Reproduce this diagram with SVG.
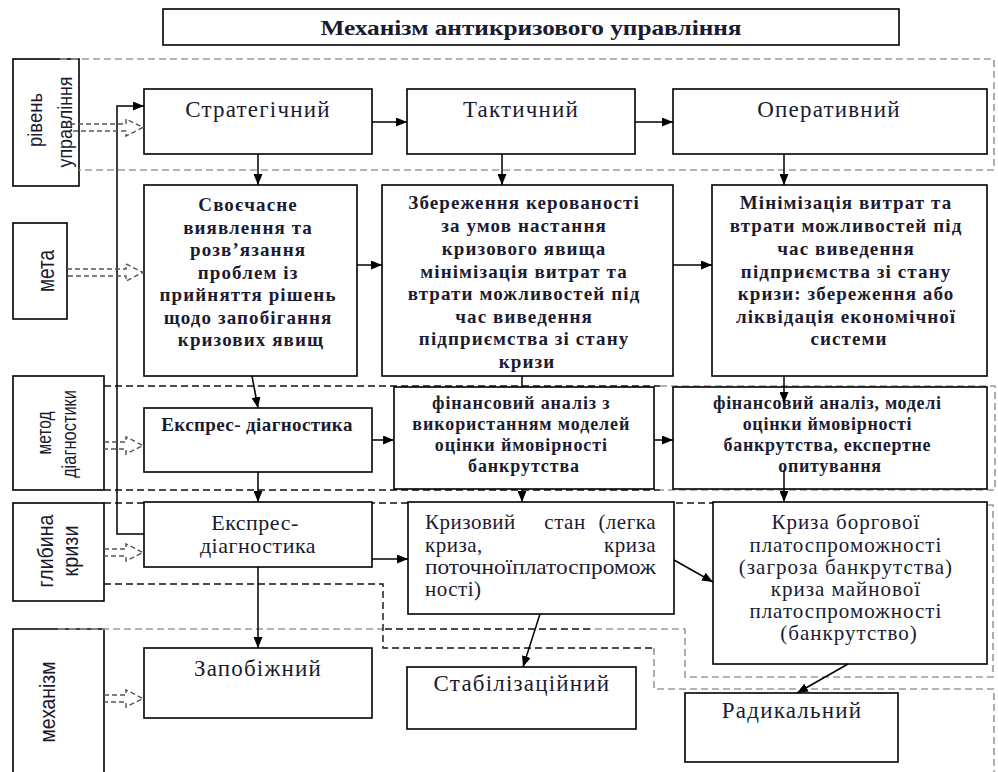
<svg xmlns="http://www.w3.org/2000/svg" width="998" height="772" viewBox="0 0 998 772">
<defs>
<marker id="ar" markerUnits="userSpaceOnUse" markerWidth="11" markerHeight="9" refX="11" refY="4.5" orient="auto">
<path d="M0,0 L11,4.5 L0,9 z" fill="#000"/>
</marker>
<style>
.box{fill:#fff;stroke:#000;stroke-width:1.6}
.t{font-family:"Liberation Serif","Times New Roman",serif;fill:#1a1a30;text-anchor:middle}
.b{font-weight:bold}
.l{text-anchor:start}
.r{text-anchor:end}
.lab{font-family:"Liberation Sans Narrow","Liberation Sans",Arial,sans-serif;fill:#1a1a30;text-anchor:middle}
.dg{fill:none;stroke:#9a9a9a;stroke-width:1.6;stroke-dasharray:7 4}
.dk{fill:none;stroke:#111;stroke-width:1.4;stroke-dasharray:7 4}
.ln{fill:none;stroke:#000;stroke-width:1.5}
.ba{fill:none;stroke:#555;stroke-width:1.4;stroke-dasharray:5 3}
.big{font-size:23px;letter-spacing:1.2px}
.g2{font-size:19px;letter-spacing:1.1px}
</style>
</defs>
<rect width="998" height="772" fill="#fff"/>

<g id="title">
<rect class="box" x="163" y="9" width="736" height="36"/>
<text class="t b" x="531" y="35" font-size="22" textLength="421" lengthAdjust="spacingAndGlyphs">Механізм антикризового управління</text>
</g>

<g id="label-riven">
<rect class="box" x="13" y="59" width="66" height="127"/>
<text class="lab" transform="translate(42,120) rotate(-90)" font-size="20" textLength="54" lengthAdjust="spacingAndGlyphs">рівень</text>
<text class="lab" transform="translate(72,122) rotate(-90)" font-size="20" textLength="91" lengthAdjust="spacingAndGlyphs">управління</text>
</g>
<g id="label-meta">
<rect class="box" x="13" y="223" width="54" height="96"/>
<text class="lab" transform="translate(54,271) rotate(-90)" font-size="23" textLength="42" lengthAdjust="spacingAndGlyphs">мета</text>
</g>
<g id="label-metod">
<rect class="box" x="13" y="376" width="91" height="114"/>
<text class="lab" transform="translate(51,433) rotate(-90)" font-size="20" textLength="43" lengthAdjust="spacingAndGlyphs">метод</text>
<text class="lab" transform="translate(76,434) rotate(-90)" font-size="20" textLength="88" lengthAdjust="spacingAndGlyphs">діагностики</text>
</g>
<g id="label-hlybyna">
<rect class="box" x="13" y="503" width="91" height="98"/>
<text class="lab" transform="translate(53,551) rotate(-90)" font-size="22" textLength="73" lengthAdjust="spacingAndGlyphs">глибина</text>
<text class="lab" transform="translate(78,551) rotate(-90)" font-size="22" textLength="51" lengthAdjust="spacingAndGlyphs">кризи</text>
</g>
<g id="label-mekhanizm">
<path class="box" d="M13,775 V629 H104 V775"/>
<text class="lab" transform="translate(55,702) rotate(-90)" font-size="22" textLength="81" lengthAdjust="spacingAndGlyphs">механізм</text>
</g>

<g id="bands">
<path class="dg" d="M60,59 H994 V170 H79"/>
<path class="dk" d="M104,386 H660"/>
<path class="dg" d="M660,386 H995 V490 H660"/>
<path class="dk" d="M104,490 H660"/>
<path class="dk" d="M104,503 H713"/>
<path class="dg" d="M713,505 H993 V677 H685 V629 H590"/>
<path class="dk" d="M590,629 H383"/>
<path class="dg" d="M58,629 H383"/>
<path class="dk" d="M104,584 H383 V648 H654"/>
<path class="dg" d="M654,648 V689 H994 V772"/>
</g>

<g id="n-strategic">
<rect class="box" x="144" y="89" width="228" height="65"/>
<text class="t big" x="258" y="117">Стратегічний</text>
</g>
<g id="n-tactical">
<rect class="box" x="407" y="89" width="228" height="65"/>
<text class="t big" x="521" y="117">Тактичний</text>
</g>
<g id="n-operative">
<rect class="box" x="673" y="89" width="314" height="65"/>
<text class="t big" x="829" y="117">Оперативний</text>
</g>

<g id="n-goal1">
<rect class="box" x="144" y="185" width="213" height="191"/>
<text class="t b g2">
<tspan x="251" y="211">Своєчасне</tspan>
<tspan x="251" y="233.5">виявлення та</tspan>
<tspan x="251" y="256">розв’язання</tspan>
<tspan x="251" y="278.5">проблем із</tspan>
<tspan x="251" y="301">прийняття рішень</tspan>
<tspan x="251" y="323.5">щодо запобігання</tspan>
<tspan x="251" y="346">кризових явищ</tspan>
</text>
</g>
<g id="n-goal2">
<rect class="box" x="382" y="185" width="291" height="191"/>
<text class="t b g2">
<tspan x="527" y="209">Збереження керованості</tspan>
<tspan x="527" y="232">за умов настання</tspan>
<tspan x="527" y="255">кризового явища</tspan>
<tspan x="527" y="278">мінімізація витрат та</tspan>
<tspan x="527" y="300">втрати можливостей під</tspan>
<tspan x="527" y="323">час виведення</tspan>
<tspan x="527" y="345">підприємства зі стану</tspan>
<tspan x="527" y="368">кризи</tspan>
</text>
</g>
<g id="n-goal3">
<rect class="box" x="712" y="185" width="275" height="191"/>
<text class="t b g2">
<tspan x="849" y="209">Мінімізація витрат та</tspan>
<tspan x="849" y="232">втрати можливостей під</tspan>
<tspan x="849" y="255">час виведення</tspan>
<tspan x="849" y="278">підприємства зі стану</tspan>
<tspan x="849" y="300">кризи: збереження або</tspan>
<tspan x="849" y="323">ліквідація економічної</tspan>
<tspan x="849" y="345">системи</tspan>
</text>
</g>

<g id="n-method1">
<rect class="box" x="144" y="408" width="228" height="64"/>
<text class="t b" x="257" y="431" font-size="19" letter-spacing="0.4">Експрес- діагностика</text>
</g>
<g id="n-method2">
<rect class="box" x="394" y="387" width="260" height="102"/>
<text class="t b" font-size="18" letter-spacing="0.9">
<tspan x="524" y="409">фінансовий аналіз з</tspan>
<tspan x="524" y="430">використанням моделей</tspan>
<tspan x="524" y="451">оцінки ймовірності</tspan>
<tspan x="524" y="472">банкрутства</tspan>
</text>
</g>
<g id="n-method3">
<rect class="box" x="673" y="387" width="314" height="102"/>
<text class="t b" font-size="18" letter-spacing="0.7">
<tspan x="830" y="409">фінансовий аналіз, моделі</tspan>
<tspan x="830" y="430">оцінки ймовірності</tspan>
<tspan x="830" y="451">банкрутства, експертне</tspan>
<tspan x="830" y="472">опитування</tspan>
</text>
</g>

<g id="n-depth1">
<rect class="box" x="144" y="502" width="228" height="65"/>
<text class="t" font-size="22" letter-spacing="0.5">
<tspan x="258" y="530">Експрес-</tspan>
<tspan x="258" y="553">діагностика</tspan>
</text>
</g>
<g id="n-depth2">
<rect class="box" x="408" y="502" width="266" height="112"/>
<text class="t l" x="425" y="529" font-size="21" letter-spacing="0.5">Кризовий</text>
<text class="t" x="565" y="529" font-size="21" letter-spacing="0.5">стан</text>
<text class="t r" x="656" y="529" font-size="21" letter-spacing="0.5">(легка</text>
<text class="t l" x="425" y="552" font-size="21" letter-spacing="0.5">криза,</text>
<text class="t r" x="656" y="552" font-size="21" letter-spacing="0.5">криза</text>
<text class="t l" x="425" y="574" font-size="21" textLength="231" lengthAdjust="spacingAndGlyphs">поточноїплатоспромож</text>
<text class="t l" x="425" y="596" font-size="21" letter-spacing="0.5">ності)</text>
</g>
<g id="n-depth3">
<rect class="box" x="713" y="502" width="274" height="162"/>
<text class="t" font-size="21" letter-spacing="1">
<tspan x="849" y="529">Криза боргової</tspan>
<tspan x="849" y="552">платоспроможності</tspan>
<tspan x="849" y="574">(загроза банкрутства)</tspan>
<tspan x="849" y="596">криза майнової</tspan>
<tspan x="849" y="618">платоспроможності</tspan>
<tspan x="849" y="640">(банкрутство)</tspan>
</text>
</g>

<g id="n-preventive">
<rect class="box" x="144" y="648" width="228" height="70"/>
<text class="t big" x="258" y="676">Запобіжний</text>
</g>
<g id="n-stabilizing">
<rect class="box" x="407" y="667" width="229" height="62"/>
<text class="t big" x="522" y="691">Стабілізаційний</text>
</g>
<g id="n-radical">
<rect class="box" x="685" y="693" width="213" height="69"/>
<text class="t big" x="792" y="718">Радикальний</text>
</g>

<g id="connectors">
<path class="ln" marker-end="url(#ar)" d="M372,122 H407"/>
<path class="ln" marker-end="url(#ar)" d="M635,122 H673"/>
<path class="ln" marker-end="url(#ar)" d="M258,154 V185"/>
<path class="ln" marker-end="url(#ar)" d="M502,154 V185"/>
<path class="ln" marker-end="url(#ar)" d="M784,154 V185"/>
<path class="ln" marker-end="url(#ar)" d="M357,265 H382"/>
<path class="ln" marker-end="url(#ar)" d="M673,265 H712"/>
<path class="ln" marker-end="url(#ar)" d="M252,376 L258,408"/>
<path class="ln" d="M522,376 V387"/>
<path class="ln" marker-end="url(#ar)" d="M784,376 V403"/>
<path class="ln" marker-end="url(#ar)" d="M372,440 H394"/>
<path class="ln" marker-end="url(#ar)" d="M654,440 H673"/>
<path class="ln" marker-end="url(#ar)" d="M258,472 V502"/>
<path class="ln" marker-end="url(#ar)" d="M522,489 V502"/>
<path class="ln" marker-end="url(#ar)" d="M784,470 V502"/>
<path class="ln" marker-end="url(#ar)" d="M372,559 H408"/>
<path class="ln" marker-end="url(#ar)" d="M674,560 L713,582"/>
<path class="ln" marker-end="url(#ar)" d="M258,567 V648"/>
<path class="ln" marker-end="url(#ar)" d="M540,614 L523,667"/>
<path class="ln" marker-end="url(#ar)" d="M848,664 L797,693"/>
<path class="ln" marker-end="url(#ar)" d="M144,534 H117 V106 H144"/>
<path class="ba" d="M70,124 H126 V119 L143,127.5 L126,136 V131 H70"/>
<path class="ba" d="M67,269 H126 V264 L143,272.5 L126,281 V276 H67"/>
<path class="ba" d="M104,442 H126 V437 L143,445.5 L126,454 V449 H104"/>
<path class="ba" d="M104,549 H126 V544 L143,552.5 L126,561 V556 H104"/>
<path class="ba" d="M104,695 H126 V690 L143,698.5 L126,707 V702 H104"/>
</g>
</svg>
